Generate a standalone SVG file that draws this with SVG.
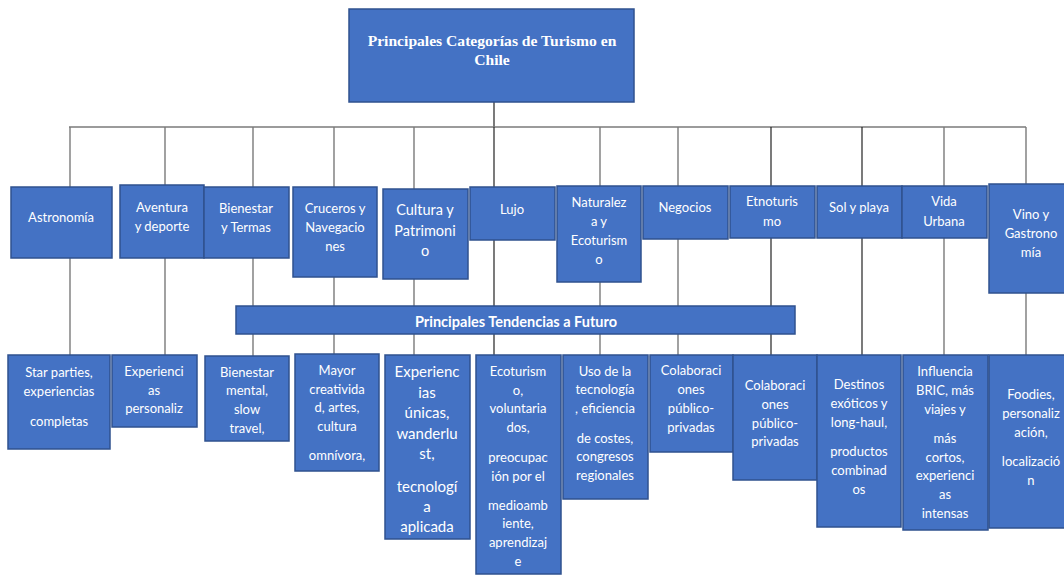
<svg xmlns="http://www.w3.org/2000/svg" width="1064" height="575" viewBox="0 0 1064 575">
<style>
.box{fill:#4472C4;stroke:#2F528F;stroke-width:1.5}
.t{fill:#ffffff;font-family:Lato,"Liberation Sans",sans-serif;font-size:13px;text-anchor:middle}
.tm{fill:#ffffff;font-family:Lato,"Liberation Sans",sans-serif;font-size:14.5px;text-anchor:middle}
.tl{fill:#ffffff;font-family:Lato,"Liberation Sans",sans-serif;font-size:15px;text-anchor:middle}
.title{fill:#ffffff;font-family:"Liberation Serif",serif;font-size:15.6px;font-weight:bold;text-anchor:middle}
.bar{fill:#ffffff;font-family:Lato,"Liberation Sans",sans-serif;font-size:14.5px;font-weight:bold;text-anchor:middle}
.ln{stroke:#7a7a7a;stroke-width:1.4;fill:none}
.lk{stroke:#222222;stroke-width:1.2;fill:none}
</style>
<rect width="1064" height="575" fill="#ffffff"/>
<g id="connectors">
<line class="lk" x1="494" y1="102" x2="494" y2="127"/>
<line class="ln" x1="69" y1="127" x2="1026" y2="127"/>
<line class="ln" x1="70" y1="127" x2="70" y2="355"/>
<line class="ln" x1="165" y1="127" x2="165" y2="355"/>
<line class="ln" x1="253" y1="127" x2="253" y2="356"/>
<line class="ln" x1="334" y1="127" x2="334" y2="354"/>
<line class="ln" x1="414" y1="127" x2="414" y2="355"/>
<line class="lk" x1="494" y1="127" x2="494" y2="355"/>
<line class="ln" x1="600" y1="127" x2="600" y2="355"/>
<line class="ln" x1="678" y1="127" x2="678" y2="355"/>
<line class="lk" x1="771" y1="127" x2="771" y2="355"/>
<line class="lk" x1="862" y1="127" x2="862" y2="355"/>
<line class="ln" x1="944" y1="127" x2="944" y2="355"/>
<line class="ln" x1="1026" y1="127" x2="1026" y2="355"/>
</g>
<g id="title">
<rect class="box" x="349" y="9" width="285" height="93"/>
<text class="title" x="492" y="46">Principales Categorías de Turismo en</text>
<text class="title" x="492" y="65">Chile</text>
</g>
<g id="astronomia">
<rect class="box" x="11" y="187" width="101" height="71"/>
<text class="t" x="61" y="222">Astronomía</text>
</g>
<g id="aventura">
<rect class="box" x="120" y="185" width="84" height="73"/>
<text class="t" x="162" y="212">Aventura</text>
<text class="t" x="162" y="231">y deporte</text>
</g>
<g id="bienestar">
<rect class="box" x="204" y="187" width="85" height="71"/>
<text class="t" x="246" y="213">Bienestar</text>
<text class="t" x="246" y="232">y Termas</text>
</g>
<g id="cruceros">
<rect class="box" x="293" y="187" width="84" height="90"/>
<text class="t" x="335" y="213">Cruceros y</text>
<text class="t" x="335" y="232">Navegacio</text>
<text class="t" x="335" y="251">nes</text>
</g>
<g id="cultura">
<rect class="box" x="383" y="189" width="85" height="90"/>
<text class="tm" x="425" y="215">Cultura y</text>
<text class="tm" x="425" y="236">Patrimoni</text>
<text class="tm" x="425" y="256">o</text>
</g>
<g id="lujo">
<rect class="box" x="470" y="187" width="85" height="53"/>
<text class="t" x="512" y="214">Lujo</text>
</g>
<g id="naturaleza">
<rect class="box" x="557" y="186" width="84" height="96"/>
<text class="t" x="599" y="207">Naturalez</text>
<text class="t" x="599" y="226">a y</text>
<text class="t" x="599" y="245">Ecoturism</text>
<text class="t" x="599" y="264">o</text>
</g>
<g id="negocios">
<rect class="box" x="643" y="186" width="85" height="53"/>
<text class="t" x="685" y="212">Negocios</text>
</g>
<g id="etnoturismo">
<rect class="box" x="730" y="186" width="85" height="52"/>
<text class="t" x="772" y="206">Etnoturis</text>
<text class="t" x="772" y="226">mo</text>
</g>
<g id="sol">
<rect class="box" x="817" y="186" width="85" height="52"/>
<text class="t" x="859" y="212">Sol y playa</text>
</g>
<g id="vida">
<rect class="box" x="902" y="186" width="85" height="52"/>
<text class="t" x="944" y="206">Vida</text>
<text class="t" x="944" y="226">Urbana</text>
</g>
<g id="vino">
<rect class="box" x="989" y="184" width="85" height="109"/>
<text class="t" x="1031" y="219">Vino y</text>
<text class="t" x="1031" y="238">Gastrono</text>
<text class="t" x="1031" y="257">mía</text>
</g>
<g id="tendencias">
<rect class="box" x="236" y="306" width="559" height="28"/>
<text class="bar" x="516" y="327">Principales Tendencias a Futuro</text>
</g>
<g id="t-astronomia">
<rect class="box" x="8" y="355" width="102" height="94"/>
<text class="t" x="59" y="377">Star parties,</text>
<text class="t" x="59" y="396">experiencias</text>
<text class="t" x="59" y="426">completas</text>
</g>
<g id="t-aventura">
<rect class="box" x="112" y="355" width="85" height="72"/>
<text class="t" x="154" y="376">Experienci</text>
<text class="t" x="154" y="395">as</text>
<text class="t" x="154" y="413">personaliz</text>
</g>
<g id="t-bienestar">
<rect class="box" x="205" y="356" width="84" height="85"/>
<text class="t" x="247" y="377">Bienestar</text>
<text class="t" x="247" y="395">mental,</text>
<text class="t" x="247" y="414">slow</text>
<text class="t" x="247" y="433">travel,</text>
</g>
<g id="t-cruceros">
<rect class="box" x="295" y="354" width="84" height="117"/>
<text class="t" x="337" y="375">Mayor</text>
<text class="t" x="337" y="394">creativida</text>
<text class="t" x="337" y="412">d, artes,</text>
<text class="t" x="337" y="431">cultura</text>
<text class="t" x="337" y="460">omnívora,</text>
</g>
<g id="t-cultura">
<rect class="box" x="385" y="355" width="85" height="184"/>
<text class="tl" x="427" y="377">Experienc</text>
<text class="tl" x="427" y="398">ias</text>
<text class="tl" x="427" y="418">únicas,</text>
<text class="tl" x="427" y="439">wanderlu</text>
<text class="tl" x="427" y="459">st,</text>
<text class="tl" x="427" y="492">tecnologí</text>
<text class="tl" x="427" y="512">a</text>
<text class="tl" x="427" y="532">aplicada</text>
</g>
<g id="t-lujo">
<rect class="box" x="476" y="355" width="85" height="219"/>
<text class="t" x="518" y="376">Ecoturism</text>
<text class="t" x="518" y="395">o,</text>
<text class="t" x="518" y="413">voluntaria</text>
<text class="t" x="518" y="432">dos,</text>
<text class="t" x="518" y="462">preocupac</text>
<text class="t" x="518" y="481">ión por el</text>
<text class="t" x="518" y="510">medioamb</text>
<text class="t" x="518" y="528">iente,</text>
<text class="t" x="518" y="547">aprendizaj</text>
<text class="t" x="518" y="566">e</text>
</g>
<g id="t-naturaleza">
<rect class="box" x="563" y="355" width="85" height="144"/>
<text class="t" x="605" y="376">Uso de la</text>
<text class="t" x="605" y="394">tecnología</text>
<text class="t" x="605" y="413">, eficiencia</text>
<text class="t" x="605" y="443">de costes,</text>
<text class="t" x="605" y="461">congresos</text>
<text class="t" x="605" y="480">regionales</text>
</g>
<g id="t-negocios">
<rect class="box" x="650" y="355" width="83" height="97"/>
<text class="t" x="691" y="375">Colaboraci</text>
<text class="t" x="691" y="394">ones</text>
<text class="t" x="691" y="413">público-</text>
<text class="t" x="691" y="432">privadas</text>
</g>
<g id="t-etnoturismo">
<rect class="box" x="733" y="355" width="84" height="125"/>
<text class="t" x="775" y="390">Colaboraci</text>
<text class="t" x="775" y="409">ones</text>
<text class="t" x="775" y="428">público-</text>
<text class="t" x="775" y="446">privadas</text>
</g>
<g id="t-sol">
<rect class="box" x="817" y="355" width="84" height="172"/>
<text class="t" x="859" y="389">Destinos</text>
<text class="t" x="859" y="408">exóticos y</text>
<text class="t" x="859" y="427">long-haul,</text>
<text class="t" x="859" y="456">productos</text>
<text class="t" x="859" y="475">combinad</text>
<text class="t" x="859" y="494">os</text>
</g>
<g id="t-vida">
<rect class="box" x="903" y="355" width="85" height="175"/>
<text class="t" x="945" y="376">Influencia</text>
<text class="t" x="945" y="395">BRIC, más</text>
<text class="t" x="945" y="414">viajes y</text>
<text class="t" x="945" y="443">más</text>
<text class="t" x="945" y="462">cortos,</text>
<text class="t" x="945" y="480">experienci</text>
<text class="t" x="945" y="499">as</text>
<text class="t" x="945" y="518">intensas</text>
</g>
<g id="t-vino">
<rect class="box" x="989" y="355" width="85" height="173"/>
<text class="t" x="1031" y="399">Foodies,</text>
<text class="t" x="1031" y="418">personaliz</text>
<text class="t" x="1031" y="437">ación,</text>
<text class="t" x="1031" y="466">localizació</text>
<text class="t" x="1031" y="485">n</text>
</g>
</svg>
